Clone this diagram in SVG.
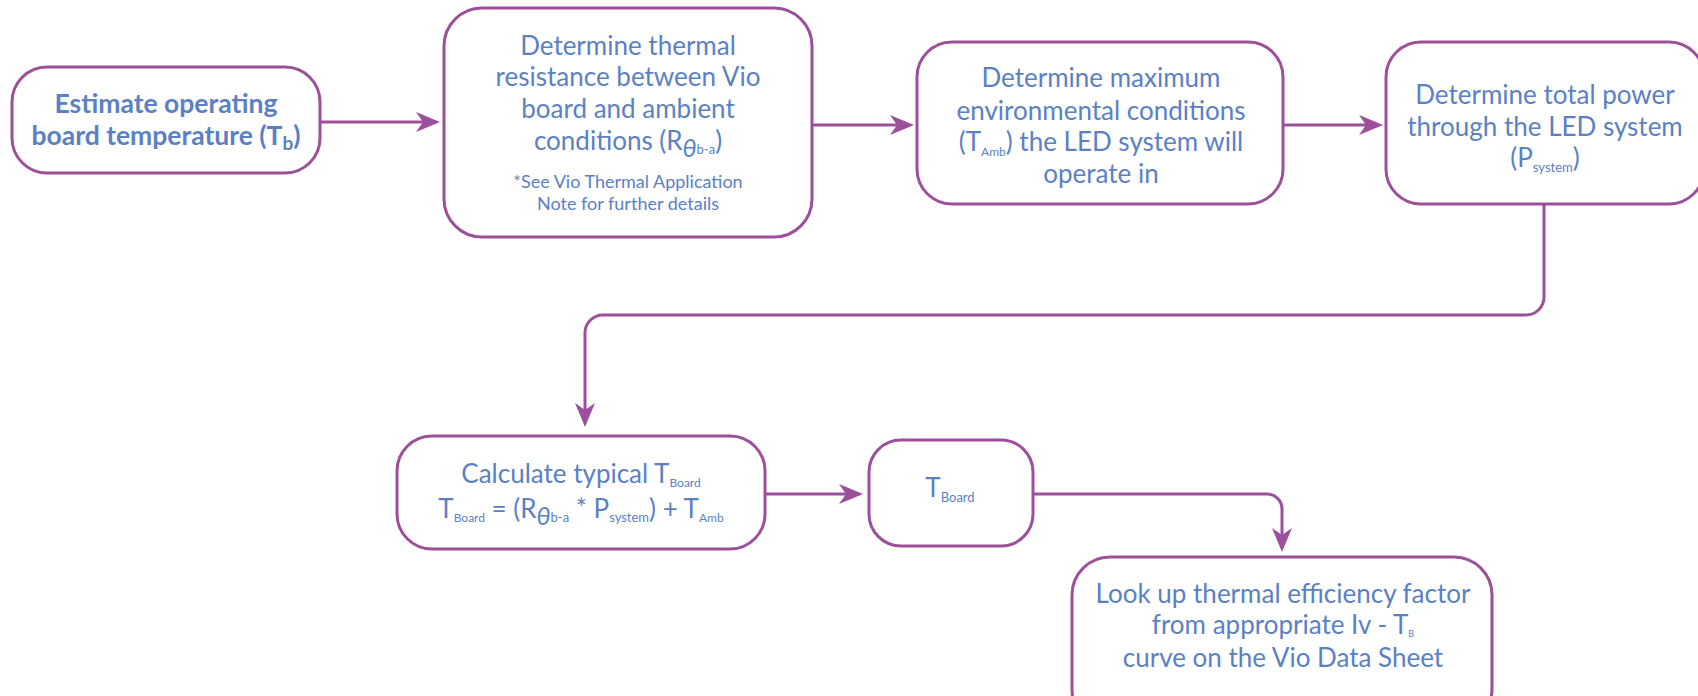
<svg xmlns="http://www.w3.org/2000/svg" width="1698" height="696" viewBox="0 0 1698 696">
<style>
.box{fill:#ffffff;stroke:#9c4f9b;stroke-width:3}
.t{font-family:Lato,"Open Sans",sans-serif;font-size:26px;fill:#5b81c4;text-anchor:middle}
.b{font-weight:bold;font-size:26.5px}
.s{font-size:18px}
.sub{font-size:12px}
.th{font-style:italic;font-size:25px}
.c{fill:none;stroke:#9c4f9b;stroke-width:3}
</style>
<defs>
<marker id="arr" markerUnits="userSpaceOnUse" markerWidth="26" markerHeight="22" refX="20" refY="10" orient="auto">
<path d="M0,0 L24,10 L0,20 L7,10 Z" fill="#9c4f9b"/>
</marker>
</defs>
<rect width="1698" height="696" fill="#ffffff"/>
<g id="connectors">
<path class="c" d="M320,122 H436" marker-end="url(#arr)"/>
<path class="c" d="M812,125 H910" marker-end="url(#arr)"/>
<path class="c" d="M1283,125 H1379" marker-end="url(#arr)"/>
<path class="c" d="M1544,204 V297 A18,18 0 0 1 1526,315 H603 A18,18 0 0 0 585,333 V423" marker-end="url(#arr)"/>
<path class="c" d="M765,494 H859" marker-end="url(#arr)"/>
<path class="c" d="M1033,494 H1267 A15,15 0 0 1 1282,509 V548" marker-end="url(#arr)"/>
</g>
<g id="n1">
<rect class="box" x="12" y="67" width="308" height="106" rx="35"/>
<text class="t b" x="166" y="113">Estimate operating</text>
<text class="t b" x="166" y="145">board temperature (T<tspan class="sub" style="font-size:19px" dy="5">b</tspan><tspan dy="-5">)</tspan></text>
</g>
<g id="n2">
<rect class="box" x="444" y="8" width="368" height="229" rx="38"/>
<text class="t" x="628" y="55">Determine thermal</text>
<text class="t" x="628" y="86">resistance between Vio</text>
<text class="t" x="628" y="118">board and ambient</text>
<text class="t" x="628" y="150">conditions (R<tspan class="th" dy="7">θ</tspan><tspan class="sub" style="font-size:13px" dy="-3">b-a</tspan><tspan dy="-4">)</tspan></text>
<text class="t s" x="628" y="188">*See Vio Thermal Application</text>
<text class="t s" x="628" y="210">Note for further details</text>
</g>
<g id="n3">
<rect class="box" x="917" y="42" width="366" height="162" rx="35"/>
<text class="t" x="1101" y="87">Determine maximum</text>
<text class="t" x="1101" y="120">environmental conditions</text>
<text class="t" x="1101" y="151">(T<tspan class="sub" dy="5">Amb</tspan><tspan dy="-5">) the LED system will</tspan></text>
<text class="t" x="1101" y="183">operate in</text>
</g>
<g id="n4">
<rect class="box" x="1386" y="42" width="318" height="162" rx="35"/>
<text class="t" x="1545" y="104">Determine total power</text>
<text class="t" x="1545" y="136">through the LED system</text>
<text class="t" x="1545" y="167">(P<tspan class="sub" style="font-size:13px" dy="5">system</tspan><tspan dy="-5">)</tspan></text>
</g>
<g id="n5">
<rect class="box" x="397" y="436" width="368" height="113" rx="35"/>
<text class="t" x="581" y="483">Calculate typical T<tspan class="sub" dy="4">Board</tspan></text>
<text class="t" x="581" y="518">T<tspan class="sub" dy="4">Board</tspan><tspan dy="-4"> = (R</tspan><tspan class="th" dy="7">θ</tspan><tspan class="sub" style="font-size:13px" dy="-3">b-a</tspan><tspan dy="-4"> * P</tspan><tspan class="sub" style="font-size:13px" dy="4">system</tspan><tspan dy="-4">) + T</tspan><tspan class="sub" dy="4">Amb</tspan></text>
</g>
<g id="n6">
<rect class="box" x="869" y="440" width="164" height="106" rx="32"/>
<text class="t" x="950" y="497">T<tspan class="sub" style="font-size:13px" dy="5">Board</tspan></text>
</g>
<g id="n7">
<rect class="box" x="1072" y="557" width="420" height="170" rx="38"/>
<text class="t" x="1283" y="603">Look up thermal efficiency factor</text>
<text class="t" x="1283" y="634">from appropriate Iv - T<tspan class="sub" style="font-size:9px" dy="3">B</tspan></text>
<text class="t" x="1283" y="667"> curve on the Vio Data Sheet</text>
</g>
</svg>
